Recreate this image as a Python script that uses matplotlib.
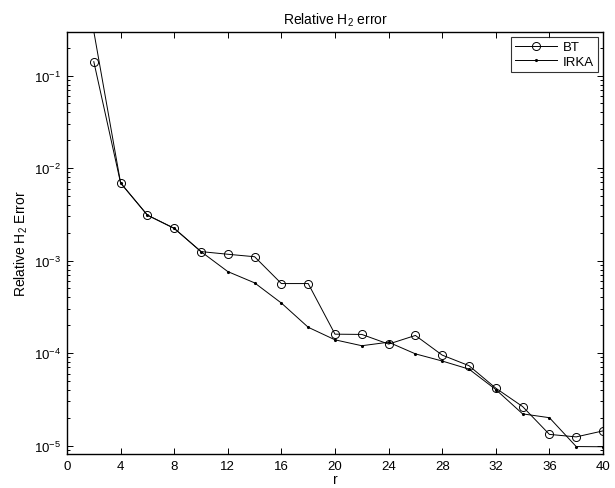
import matplotlib
matplotlib.use("Agg")
import matplotlib.pyplot as plt
from matplotlib.ticker import LogLocator, NullFormatter, FixedLocator

plt.rcParams['font.family'] = ['Liberation Sans', 'DejaVu Sans']
plt.rcParams['mathtext.fontset'] = 'custom'
plt.rcParams['mathtext.rm'] = 'Liberation Sans'
plt.rcParams['mathtext.it'] = 'Liberation Sans'

r = [2, 4, 6, 8, 10, 12, 14, 16, 18, 20, 22, 24, 26, 28, 30, 32, 34, 36, 38, 40]
bt = [0.1415, 0.0069, 0.0031, 0.00223, 0.00125, 0.00117, 0.0011, 0.000564,
      0.000564, 0.00016, 0.000159, 0.000125, 0.000155, 9.5e-5, 7.3e-5,
      4.17e-5, 2.64e-5, 1.32e-5, 1.24e-5, 1.44e-5]
irka = [0.30, 0.0069, 0.0031, 0.00223, 0.00125, 7.6e-4, 5.74e-4, 3.47e-4,
        1.9e-4, 1.39e-4, 1.2e-4, 1.31e-4, 9.8e-5, 8.2e-5, 6.7e-5, 4.03e-5,
        2.2e-5, 2.0e-5, 9.75e-6, 9.7e-6]
xticks = list(range(0, 41, 4))

fig = plt.figure(figsize=(6.15, 4.89), dpi=100)
ax = fig.add_axes([67/615, 1-455/489, (603-67)/615, (455-33)/489])

ax.plot(r, bt, color='black', lw=0.7, marker='o', ms=5.8, mfc='none',
        mec='black', mew=0.7, label='BT')
ax.plot(r, irka, color='black', lw=0.7, marker='.', ms=2.5, label='IRKA')

ax.set_yscale('log')
ax.set_xlim(0, 40)
ax.set_ylim(8.1e-6, 0.296)
ax.xaxis.set_major_locator(FixedLocator(xticks))
ax.set_xticklabels([str(t) for t in xticks])
ax.yaxis.set_major_locator(LogLocator(base=10, numticks=20))
ax.yaxis.set_minor_locator(LogLocator(base=10, subs=range(2, 10), numticks=20))
ax.yaxis.set_minor_formatter(NullFormatter())

ax.tick_params(which='both', direction='in', top=True, right=True,
               labelsize=9.5, width=0.7)
ax.tick_params(which='major', length=4, pad=4)
ax.tick_params(which='minor', length=2)
for s in ax.spines.values():
    s.set_linewidth(1.0)

ax.set_xlabel('r', fontsize=10, labelpad=0)
ax.set_ylabel('Relative H$_2$ Error', fontsize=10, labelpad=3)
ax.set_title('Relative H$_2$ error', fontsize=10, pad=6)

leg = ax.legend(loc='upper right', fontsize=9.5, frameon=True, fancybox=False,
                edgecolor='black', borderpad=0.3, handlelength=3.2,
                labelspacing=0.15, borderaxespad=0.4, handletextpad=0.4)
leg.get_frame().set_linewidth(0.8)

fig.savefig('out.png', dpi=100)
